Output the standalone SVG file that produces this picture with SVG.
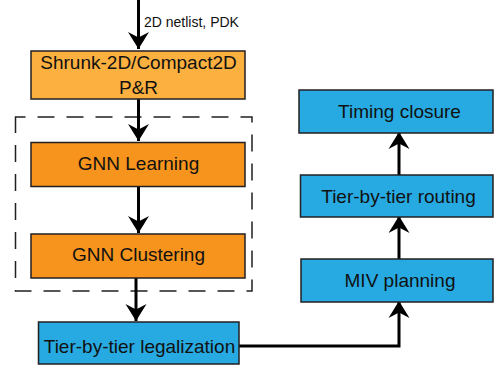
<svg xmlns="http://www.w3.org/2000/svg" width="494" height="365" viewBox="0 0 494 365">
  <style>
    .box { stroke: #231f20; stroke-width: 1.5; }
    .pr { fill: #fbb040; }
    .gnn { fill: #f7941d; }
    .flow { fill: #27aae1; }
    .lbl { font-family: "Liberation Sans", Arial, sans-serif; font-size: 19px; fill: #111; text-anchor: middle; }
    .note { font-family: "Liberation Sans", Arial, sans-serif; font-size: 14px; fill: #111; }
    .wire { fill: none; stroke: #000; stroke-width: 3; marker-end: url(#head); }
  </style>
  <defs>
    <marker id="head" viewBox="-17 -11 18 22" refX="0" refY="0" markerWidth="18" markerHeight="22" markerUnits="userSpaceOnUse" orient="auto">
      <path d="M0,0 L-17,-10.5 L-11.5,0 L-17,10.5 Z" fill="#000"/>
    </marker>
  </defs>

  <!-- dashed grouping frame around the GNN stages -->
  <rect x="15.5" y="117" width="236.5" height="174" fill="none" stroke="#231f20" stroke-width="1.5" stroke-dasharray="17 12" stroke-dashoffset="7"/>

  <g id="connectors">
    <path class="wire" d="M138.5,0 V49"/>
    <path class="wire" d="M138.5,99 V141"/>
    <path class="wire" d="M138.5,187 V233"/>
    <path class="wire" d="M136,278 V321"/>
    <path class="wire" d="M239,346 H399 V301"/>
    <path class="wire" d="M399,259 V216"/>
    <path class="wire" d="M399,175 V132"/>
  </g>
  <text class="note" x="144" y="26.5">2D netlist, PDK</text>

  <g id="pnr">
    <rect class="box pr" x="31" y="51" width="214" height="48"/>
    <text class="lbl" x="138.5" y="68.5">Shrunk-2D/Compact2D</text>
    <text class="lbl" x="138.5" y="94">P&amp;R</text>
  </g>
  <g id="gnn-learning">
    <rect class="box gnn" x="31" y="142.5" width="214" height="44"/>
    <text class="lbl" x="138.5" y="170">GNN Learning</text>
  </g>
  <g id="gnn-clustering">
    <rect class="box gnn" x="31" y="234" width="214" height="44"/>
    <text class="lbl" x="138.5" y="260.5">GNN Clustering</text>
  </g>
  <g id="legalization">
    <rect class="box flow" x="38.5" y="322" width="200.5" height="42"/>
    <text class="lbl" x="139.5" y="352.5">Tier-by-tier legalization</text>
  </g>
  <g id="miv-planning">
    <rect class="box flow" x="301" y="259" width="192" height="43"/>
    <text class="lbl" x="400" y="286.5">MIV planning</text>
  </g>
  <g id="routing">
    <rect class="box flow" x="300.5" y="175" width="192.5" height="42"/>
    <text class="lbl" x="398.5" y="202.5">Tier-by-tier routing</text>
  </g>
  <g id="timing-closure">
    <rect class="box flow" x="299" y="90" width="194" height="43"/>
    <text class="lbl" x="399.5" y="117.5">Timing closure</text>
  </g>
</svg>
